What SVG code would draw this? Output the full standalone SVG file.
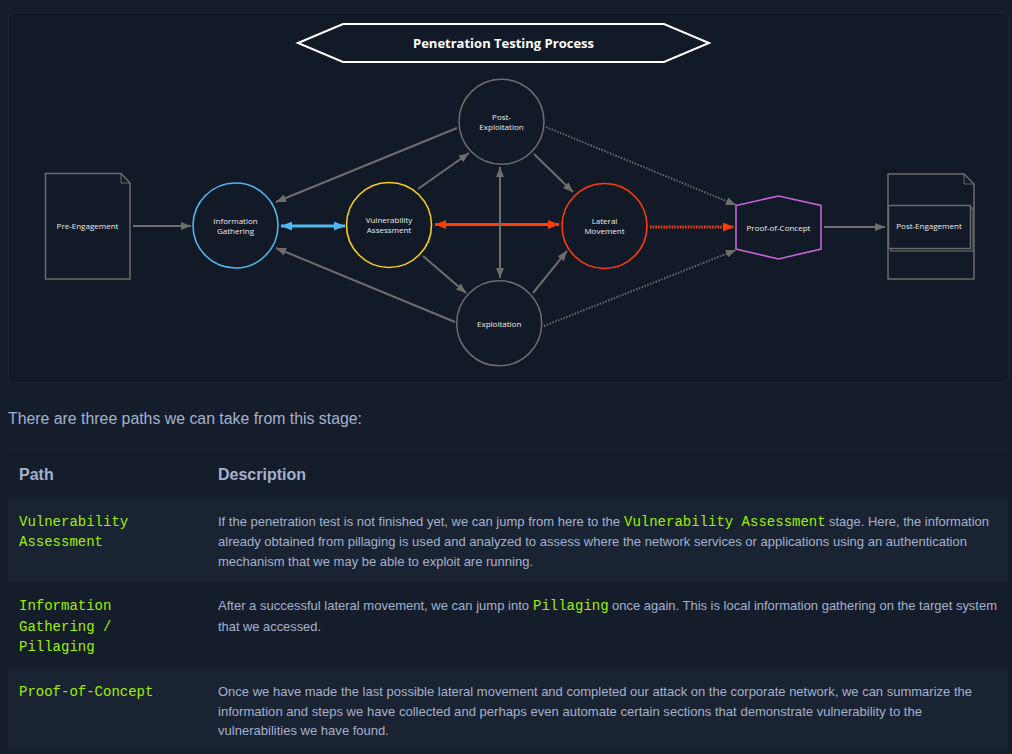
<svg xmlns="http://www.w3.org/2000/svg" width="1012" height="754" viewBox="0 0 1012 754">
<defs>
<style>
.node-t{font-family:"Open Sans","Liberation Sans",sans-serif;font-size:8px;fill:#ececec;text-anchor:middle}
.conn{fill:none;stroke:#6e6e6e;stroke-width:2}
.dot{fill:none;stroke:#6a6a6a;stroke-width:2;stroke-dasharray:1.5 1.5}
.doc{fill:#121a28;stroke:#6b6b6b;stroke-width:1.5}
.body{font-family:"Liberation Sans",Arial,sans-serif;font-size:13px;fill:#a4b1cd}
.code{font-family:"Liberation Mono","DejaVu Sans Mono",monospace;font-size:14px;fill:#9fef00}
.hdr{font-family:"Liberation Sans",Arial,sans-serif;font-size:16px;font-weight:bold;fill:#a4b1cd}
</style>
<marker id="ag" viewBox="0 0 10 8" refX="10" refY="4" markerWidth="10" markerHeight="8" markerUnits="userSpaceOnUse" orient="auto-start-reverse"><path d="M0,0 L10,4 L0,8 z" fill="#6e6e6e"/></marker>
<marker id="ab" viewBox="0 0 10 8" refX="10" refY="4" markerWidth="11" markerHeight="9" markerUnits="userSpaceOnUse" orient="auto-start-reverse"><path d="M0,0 L10,4 L0,8 z" fill="#4fb8ec"/></marker>
<marker id="ar" viewBox="0 0 10 8" refX="10" refY="4" markerWidth="11" markerHeight="9" markerUnits="userSpaceOnUse" orient="auto-start-reverse"><path d="M0,0 L10,4 L0,8 z" fill="#ff3d00"/></marker>
</defs>
<rect x="0" y="0" width="1012" height="754" fill="#151d2b"/>
<rect x="8.5" y="12.5" width="1000" height="370" rx="4" fill="#121a28" stroke="#1b2434" stroke-width="1"/>

<g id="title">
<polygon points="298,43 343,24 664,24 709,43 664,62 343,62" fill="#121a28" stroke="#ffffff" stroke-width="2"/>
<text x="503.5" y="47.5" font-family="'Open Sans','Liberation Sans',sans-serif" font-size="13" font-weight="bold" fill="#ffffff" text-anchor="middle">Penetration Testing Process</text>
</g>

<g id="connectors">
<line class="conn" x1="133" y1="226" x2="191" y2="226" marker-end="url(#ag)"/>
<line class="conn" x1="824" y1="227" x2="885" y2="227" marker-end="url(#ag)"/>
<line class="conn" x1="457" y1="128" x2="276" y2="202" marker-end="url(#ag)"/>
<line class="conn" x1="455" y1="322" x2="276" y2="248" marker-end="url(#ag)"/>
<line class="conn" x1="418" y1="189" x2="469" y2="153" marker-end="url(#ag)"/>
<line class="conn" x1="423" y1="256" x2="466" y2="293" marker-end="url(#ag)"/>
<line class="conn" x1="534" y1="154" x2="573" y2="192" marker-end="url(#ag)"/>
<line class="conn" x1="533" y1="293" x2="567" y2="251" marker-end="url(#ag)"/>
<line class="dot" x1="546" y1="127" x2="736" y2="205" marker-end="url(#ag)"/>
<line class="dot" x1="544" y1="326" x2="736" y2="250" marker-end="url(#ag)"/>
<line x1="281" y1="226" x2="345" y2="226" stroke="#4fb8ec" stroke-width="3" marker-start="url(#ab)" marker-end="url(#ab)"/>
<line x1="435" y1="224.5" x2="559" y2="224.5" stroke="#ff3d00" stroke-width="3" marker-start="url(#ar)" marker-end="url(#ar)"/>
<line class="conn" x1="500" y1="167" x2="500" y2="278" marker-start="url(#ag)" marker-end="url(#ag)"/>
<line x1="650" y1="227" x2="734" y2="227" stroke="#ff3d00" stroke-width="3" stroke-dasharray="1.5 1.2" marker-end="url(#ar)"/>
</g>

<g id="pre-engagement">
<path class="doc" d="M45.5,173.5 H121 L130,183 V279 H45.5 Z"/>
<path d="M121,173.5 V183 H130" fill="none" stroke="#6b6b6b" stroke-width="1"/>
<text class="node-t" x="87.5" y="229">Pre-Engagement</text>
</g>

<g id="information-gathering">
<circle cx="235.5" cy="225.5" r="42.5" fill="#121a28" stroke="#4fb8ec" stroke-width="1.6"/>
<text class="node-t" x="235.5" y="224">Information</text>
<text class="node-t" x="235.5" y="234">Gathering</text>
</g>

<g id="vulnerability-assessment">
<circle cx="389" cy="225" r="42.5" fill="#121a28" stroke="#f4cf1c" stroke-width="1.6"/>
<text class="node-t" x="389" y="223">Vulnerability</text>
<text class="node-t" x="389" y="233">Assessment</text>
</g>

<g id="post-exploitation">
<circle cx="501.5" cy="121.7" r="42.5" fill="#121a28" stroke="#6e6e6e" stroke-width="1.5"/>
<text class="node-t" x="501.5" y="119.5">Post-</text>
<text class="node-t" x="501.5" y="129.5">Exploitation</text>
</g>

<g id="exploitation">
<circle cx="499.2" cy="323.3" r="42.5" fill="#121a28" stroke="#6e6e6e" stroke-width="1.5"/>
<text class="node-t" x="499.2" y="326.5">Exploitation</text>
</g>

<g id="lateral-movement">
<circle cx="604.5" cy="226" r="42.5" fill="#121a28" stroke="#ff3d0a" stroke-width="1.6"/>
<text class="node-t" x="604.5" y="224">Lateral</text>
<text class="node-t" x="604.5" y="234">Movement</text>
</g>

<g id="proof-of-concept">
<polygon points="736,205.5 778.5,196 821,205.5 821,249 778.5,259 736,249" fill="#121a28" stroke="#c565d8" stroke-width="1.6"/>
<text class="node-t" x="778.5" y="230.5">Proof-of-Concept</text>
</g>

<g id="post-engagement">
<path class="doc" d="M888,174 H964 L974,184 V279 H888 Z"/>
<path d="M964,174 V184 H974" fill="none" stroke="#6b6b6b" stroke-width="1"/>
<rect x="891" y="208" width="82" height="43" fill="#121a28" stroke="#6b6b6b" stroke-width="1.2"/>
<rect x="888.5" y="205.5" width="82" height="43" fill="#121a28" stroke="#6b6b6b" stroke-width="1.5"/>
<text class="node-t" x="929" y="229">Post-Engagement</text>
</g>

<g id="text-section">
<text x="8" y="424" font-family="'Liberation Sans',Arial,sans-serif" font-size="16" fill="#a4b1cd" textLength="354" lengthAdjust="spacingAndGlyphs">There are three paths we can take from this stage:</text>
<line x1="8" y1="448.5" x2="1008" y2="448.5" stroke="#1a2333" stroke-width="1"/>
<text class="hdr" x="19" y="480">Path</text>
<text class="hdr" x="218" y="480">Description</text>

<rect x="8" y="497" width="1000" height="85" fill="#1a2332"/>
<text class="code" x="19" y="526">Vulnerability</text>
<text class="code" x="19" y="546">Assessment</text>
<text class="body" x="218" y="526" textLength="402" lengthAdjust="spacingAndGlyphs">If the penetration test is not finished yet, we can jump from here to the</text>
<text class="code" x="624" y="526">Vulnerability Assessment</text>
<text class="body" x="829" y="526" textLength="160" lengthAdjust="spacingAndGlyphs">stage. Here, the information</text>
<text class="body" x="218" y="546" textLength="749" lengthAdjust="spacingAndGlyphs">already obtained from pillaging is used and analyzed to assess where the network services or applications using an authentication</text>
<text class="body" x="218" y="566" textLength="315" lengthAdjust="spacingAndGlyphs">mechanism that we may be able to exploit are running.</text>

<text class="code" x="19" y="610">Information</text>
<text class="code" x="19" y="631">Gathering /</text>
<text class="code" x="19" y="651">Pillaging</text>
<text class="body" x="218" y="610" textLength="311" lengthAdjust="spacingAndGlyphs">After a successful lateral movement, we can jump into</text>
<text class="code" x="533" y="610">Pillaging</text>
<text class="body" x="612" y="610" textLength="385" lengthAdjust="spacingAndGlyphs">once again. This is local information gathering on the target system</text>
<text class="body" x="218" y="631" textLength="103" lengthAdjust="spacingAndGlyphs">that we accessed.</text>

<rect x="8" y="668" width="1000" height="83" fill="#1a2332"/>
<text class="code" x="19" y="696">Proof-of-Concept</text>
<text class="body" x="218" y="696" textLength="754" lengthAdjust="spacingAndGlyphs">Once we have made the last possible lateral movement and completed our attack on the corporate network, we can summarize the</text>
<text class="body" x="218" y="716" textLength="704" lengthAdjust="spacingAndGlyphs">information and steps we have collected and perhaps even automate certain sections that demonstrate vulnerability to the</text>
<text class="body" x="218" y="735" textLength="171" lengthAdjust="spacingAndGlyphs">vulnerabilities we have found.</text>
</g>
</svg>
